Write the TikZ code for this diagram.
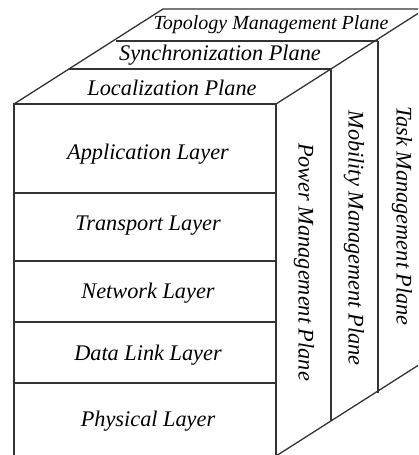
\documentclass[tikz,border=0pt]{standalone}
\usepackage{fontspec}
\setmainfont{Liberation Serif}

\begin{document}
\begin{tikzpicture}[x=0.5pt, y=-0.5pt,
	edge/.style={draw=black!80, line width=0.65pt},
	layertext/.style={font=\itshape\fontsize{11.15}{13}\selectfont},
	sidetext/.style={layertext, rotate=-90}]
	\useasboundingbox (0,0) rectangle (418,455);
	\clip (0,0) rectangle (418,455);
	
	\coordinate (f1) at (14,104);
	\coordinate (f2) at (276,104);
	\coordinate (f3) at (276,456);
	\coordinate (f4) at (14,456);
	
	\path (f1) ++(55,-35) coordinate (l1) ++(47,-28) coordinate (l2) ++(47,-32) coordinate (l3);
	\path (f2) ++(55,-35) coordinate (r1) ++(47,-28) coordinate (r2) ++(47,-32) coordinate (r3);
	\path (f3) ++(55,-35) coordinate (s1) ++(47,-28) coordinate (s2) ++(47,-32) coordinate (s3);
	
	% front stack
	\draw[edge] (f4) -- (f1) -- (f2) -- (f3) -- cycle;
	\foreach \y in {193,261,322,383}
		\draw[edge] (14,\y) -- (276,\y);
	
	% top and side planes
	\draw[edge] (f1) -- (l3) -- (r3) -- (f2);
	\draw[edge] (l1) -- (r1) (l2) -- (r2);
	\draw[edge] (r3) -- (s3) -- (f3);
	\draw[edge] (r1) -- (s1) (r2) -- (s2);
	
	\node[layertext] (app) at (148,154) {Application Layer};
	\node[layertext] (trans) at (148,226) {Transport Layer};
	\node[layertext] (net) at (148,293) {Network Layer};
	\node[layertext] (link) at (148,355) {Data Link Layer};
	\node[layertext] (phy) at (148,421) {Physical Layer};
	
	\node[layertext] (loc) at (172,88) {Localization Plane};
	\node[layertext] (sync) at (220,55) {Synchronization Plane};
	\node[layertext, font=\itshape\fontsize{10}{12}\selectfont] (topo) at (271,25) {Topology Management Plane};
	
	\node[sidetext] (power) at (304,262) {Power Management Plane};
	\node[sidetext] (mob) at (354,238) {Mobility Management Plane};
	\node[sidetext] (task) at (402,216) {Task Management Plane};
\end{tikzpicture}
\end{document}
